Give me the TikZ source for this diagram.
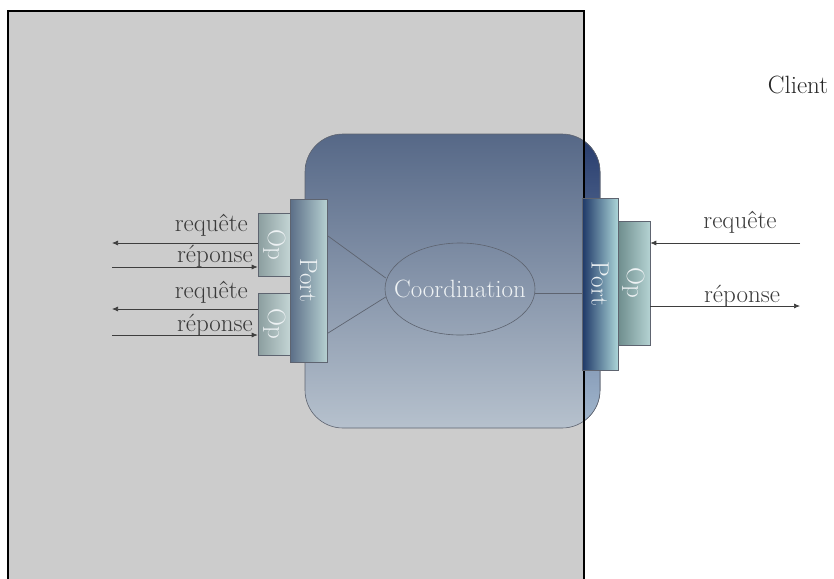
\documentclass[tikz,border=0pt]{standalone}
\usepackage{fontspec}
\usetikzlibrary{shapes.geometric,arrows.meta}

\definecolor{bggray}{HTML}{CCCCCC}
\definecolor{boxtop}{HTML}{566887}
\definecolor{boxbot}{HTML}{B6C1CD}
\definecolor{boxtopR}{HTML}{263B6C}
\definecolor{boxbotR}{HTML}{A3B8CE}
\definecolor{portLl}{HTML}{5B6E87}
\definecolor{portLr}{HTML}{B6D0D1}
\definecolor{opLl}{HTML}{8B9E9F}
\definecolor{opLr}{HTML}{C5D6D6}
\definecolor{portRl}{HTML}{1D3767}
\definecolor{portRr}{HTML}{ACD5D8}
\definecolor{opRl}{HTML}{6C8B8B}
\definecolor{opRr}{HTML}{B4D2D2}
\definecolor{linegray}{HTML}{3E3E3E}
\definecolor{labelgray}{HTML}{3A3A3A}
\definecolor{edgegray}{HTML}{5E6470}
\definecolor{softwhite}{HTML}{EEF2F4}

\tikzset{
  txt/.style={font=\fontsize{25}{28}\selectfont, inner sep=0pt},
  lbl/.style={txt, text=labelgray},
  compbox/.style={rectangle, rounded corners=38pt, draw=edgegray, line width=0.6pt,
    top color=boxtop, bottom color=boxbot, minimum width=295pt, minimum height=294pt},
  portbox/.style={rectangle, draw=edgegray, line width=0.6pt, inner sep=0pt},
  vtext/.style={txt, text=softwhite, rotate=-90},
  link/.style={draw=edgegray, line width=0.7pt},
  arr/.style={draw=linegray, line width=0.7pt, -{Latex[length=6pt,width=5pt]}},
}

\begin{document}
\begin{tikzpicture}[x=1pt,y=-1pt]
\useasboundingbox (0,0) rectangle (834,578);

% system boundary (grey area)
\fill[bggray] (8,11) rectangle (584,600);

% coordination component
\node[compbox] (comp) at (452.5,281) {};
\begin{scope}
  \clip (584,0) rectangle (620,578);
  \path[rounded corners=38pt, top color=boxtopR, bottom color=boxbotR]
    (305,134) rectangle (600,428);
  \draw[edgegray, line width=0.6pt, rounded corners=38pt] (305,134) rectangle (600,428);
\end{scope}

% boundary edges drawn over the component
\draw[black, line width=1.1pt] (8,600) -- (8,11) -- (584,11) -- (584,600);

% internal coordination
\node[ellipse, draw=edgegray, line width=0.6pt, inner sep=0pt,
      minimum width=150pt, minimum height=92pt] (coord) at (460,289) {};
\node[txt, text=softwhite] (coordt) at (coord) {Coordination};

% left side: operations and port
\node[portbox, left color=opLl, right color=opLr, minimum width=33pt, minimum height=63pt] (ol1) at (274.5,244.5) {};
\node[portbox, left color=opLl, right color=opLr, minimum width=33pt, minimum height=62pt] (ol2) at (274.5,324) {};
\node[portbox, left color=portLl, right color=portLr, minimum width=37pt, minimum height=163pt] (pl) at (308.5,280.5) {};
\node[vtext] (olt1) at (ol1) {Op};
\node[vtext] (olt2) at (ol2) {Op};
\node[vtext] (plt) at (pl) {Port};

% right side: operation and port
\node[portbox, left color=opRl, right color=opRr, minimum width=33pt, minimum height=124pt] (or) at (633.5,283) {};
\node[portbox, left color=portRl, right color=portRr, minimum width=36pt, minimum height=172pt] (pr) at (600,284) {};
\node[vtext] (prt) at (pr) {Port};
\node[vtext] (ort) at (or) {Op};

% links between ports and coordination
\draw[link] ([yshift=45pt]pl.east) -- ([yshift=11pt,xshift=1pt]coord.west);
\draw[link] ([yshift=-53pt]pl.east) -- ([yshift=-8pt,xshift=1pt]coord.west);
\draw[link] ([yshift=-4pt]coord.east) -- ([yshift=-4pt]coord.east -| pr.west);

% outgoing requests on the left
\coordinate (q1) at (112,243);
\coordinate (r1) at (112,267);
\coordinate (q2) at (112,309);
\coordinate (r2) at (112,335);
\draw[arr] (q1 -| ol1.west) -- (q1);
\draw[arr] (r1) -- (r1 -| ol1.west);
\draw[arr] (q2 -| ol2.west) -- (q2);
\draw[arr] (r2) -- (r2 -| ol2.west);
\node[lbl, anchor=east] (lq1) at (248,225) {requête};
\node[lbl, anchor=east] (lr1) at (253,256) {réponse};
\node[lbl, anchor=east] (lq2) at (248,292) {requête};
\node[lbl, anchor=east] (lr2) at (253,325) {réponse};

% client side on the right
\coordinate (cq) at (800,243);
\coordinate (cr) at (800,306);
\draw[arr] (cq) -- (cq -| or.east);
\draw[arr] (cr -| or.east) -- (cr);
\node[lbl] (rq) at (740,222) {requête};
\node[lbl] (rr) at (742,296) {réponse};
\node[txt, text=black!85] (client) at (798,85) {Client};
\end{tikzpicture}
\end{document}
